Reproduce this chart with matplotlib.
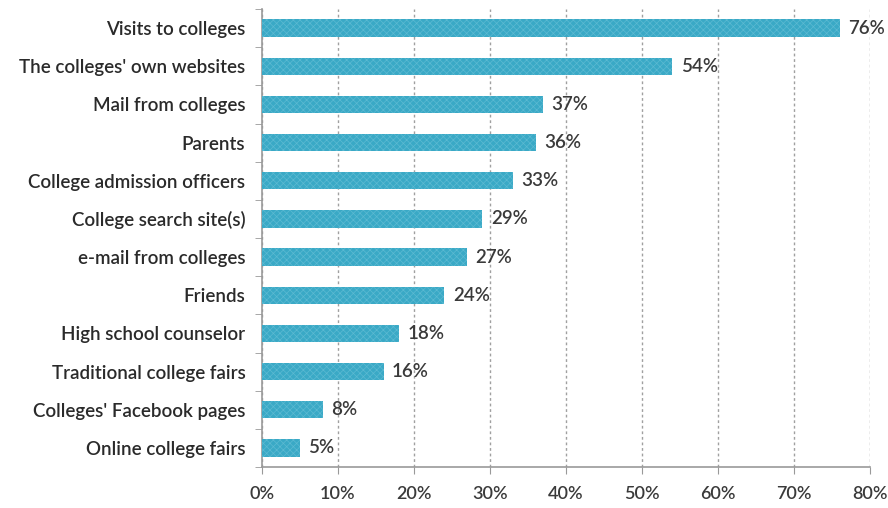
import matplotlib.pyplot as plt
import numpy as np
from matplotlib.ticker import FixedLocator

categories = ["Visits to colleges", "The colleges' own websites", "Mail from colleges",
              "Parents", "College admission officers", "College search site(s)",
              "e-mail from colleges", "Friends", "High school counselor",
              "Traditional college fairs", "Colleges' Facebook pages", "Online college fairs"]
values = [76, 54, 37, 36, 33, 29, 27, 24, 18, 16, 8, 5]
xticks = [0, 10, 20, 30, 40, 50, 60, 70, 80]

plt.rcParams['font.family'] = ['Lato', 'DejaVu Sans']
plt.rcParams['hatch.linewidth'] = 0.5

fig = plt.figure(figsize=(8.88, 5.08), dpi=100)
ax = fig.add_axes([262/888, 1 - 467/508, 608/888, 458/508])

y = np.arange(len(categories))
ax.barh(y, values, height=0.45, color='#3aa9c6', edgecolor='#5cbad2',
        linewidth=0, hatch='xxxxx', zorder=3)
for yi, v in zip(y, values):
    ax.text(v + 1.1, yi, f"{v}%", va='center', ha='left', fontsize=13.5,
            color='#3a3a3a', fontweight='semibold')

ax.set_ylim(len(categories) - 0.5, -0.5)
ax.set_xlim(0, 80)
ax.set_yticks(y)
ax.set_yticklabels(categories, fontsize=13.5, color='#2a2a2a', fontweight='semibold')
ax.tick_params(axis='y', length=0, pad=12)
ax.yaxis.set_minor_locator(FixedLocator(np.arange(-0.5, len(categories), 1)))
ax.tick_params(axis='y', which='minor', length=5, color='#999999', direction='out')

ax.set_xticks(xticks)
ax.set_xticklabels([f"{t}%" for t in xticks], fontsize=13, color='#3a3a3a', fontweight='semibold')
ax.tick_params(axis='x', length=5, color='#999999', pad=9)

ax.grid(axis='x', linestyle=(0, (2, 2)), color='#a0a0a0', linewidth=1, zorder=0)
for s in ['top', 'right']:
    ax.spines[s].set_visible(False)
for s in ['left', 'bottom']:
    ax.spines[s].set_color('#999999')
    ax.spines[s].set_linewidth(1.2)

fig.savefig('out.png', dpi=100)
